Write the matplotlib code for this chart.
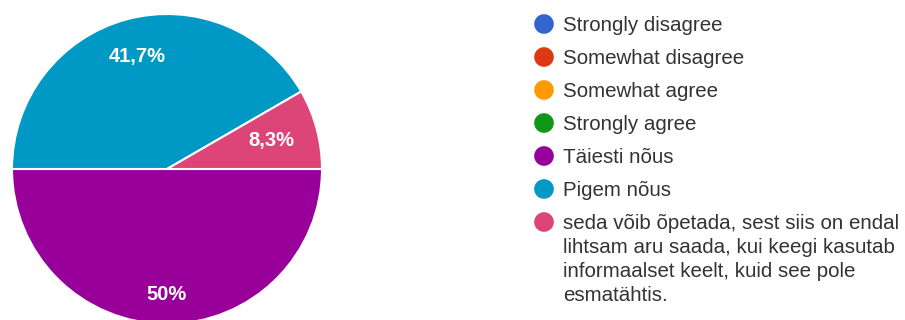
import textwrap
import numpy as np
import matplotlib
matplotlib.use("Agg")
import matplotlib.pyplot as plt

# andmed (12 vastust)
legend_labels = [
    "Strongly disagree",
    "Somewhat disagree",
    "Somewhat agree",
    "Strongly agree",
    "Täiesti nõus",
    "Pigem nõus",
    "seda võib õpetada, sest siis on endal lihtsam aru saada, kui keegi "
    "kasutab informaalset keelt, kuid see pole esmatähtis.",
]
counts = [0, 0, 0, 0, 6, 5, 1]
colors = ["#3366cc", "#dc3912", "#ff9900", "#109618", "#990099", "#0099c6", "#dd4477"]

W, H = 905, 320
plt.rcParams["font.family"] = ["Liberation Sans", "DejaVu Sans"]

fig = plt.figure(figsize=(W / 100, H / 100), dpi=100)
ax = fig.add_axes([0, 0, 1, 1])

# pirukas: ainult nullist erinevad lõigud
pie_vals = [c for c in counts if c > 0]
pie_cols = [col for c, col in zip(counts, colors) if c > 0]
total = sum(pie_vals)


def fmt(v):
    s = f"{v:.1f}"
    if s.endswith(".0"):
        s = s[:-2]
    return s.replace(".", ",") + "%"


cx, cy, R = 167, H - 169, 155
wedges, _ = ax.pie(pie_vals, colors=pie_cols, startangle=0, counterclock=False,
                   center=(cx, cy), radius=R, frame=True,
                   wedgeprops=dict(edgecolor="white", linewidth=1.5))
ax.set_xlim(0, W)
ax.set_ylim(0, H)
ax.set_aspect("equal")
ax.axis("off")

label_dist = [0.81, 0.75, 0.70]
for w, v, d in zip(wedges, pie_vals, label_dist):
    th = np.deg2rad((w.theta1 + w.theta2) / 2)
    ax.text(cx + d * R * np.cos(th), cy + d * R * np.sin(th), fmt(100 * v / total),
            color="white", fontsize=14.5, fontweight="bold", ha="center", va="center")

# legend
y0, step = H - 24, 33
for i, (lab, col) in enumerate(zip(legend_labels, colors)):
    y = y0 - i * step
    ax.scatter([544], [y], s=200, color=col, edgecolors="none", zorder=3)
    ax.text(563, y + 8, textwrap.fill(lab, 37), fontsize=14.8, color="#333333",
            ha="left", va="top", linespacing=1.33)

fig.savefig("out.png", dpi=100)
